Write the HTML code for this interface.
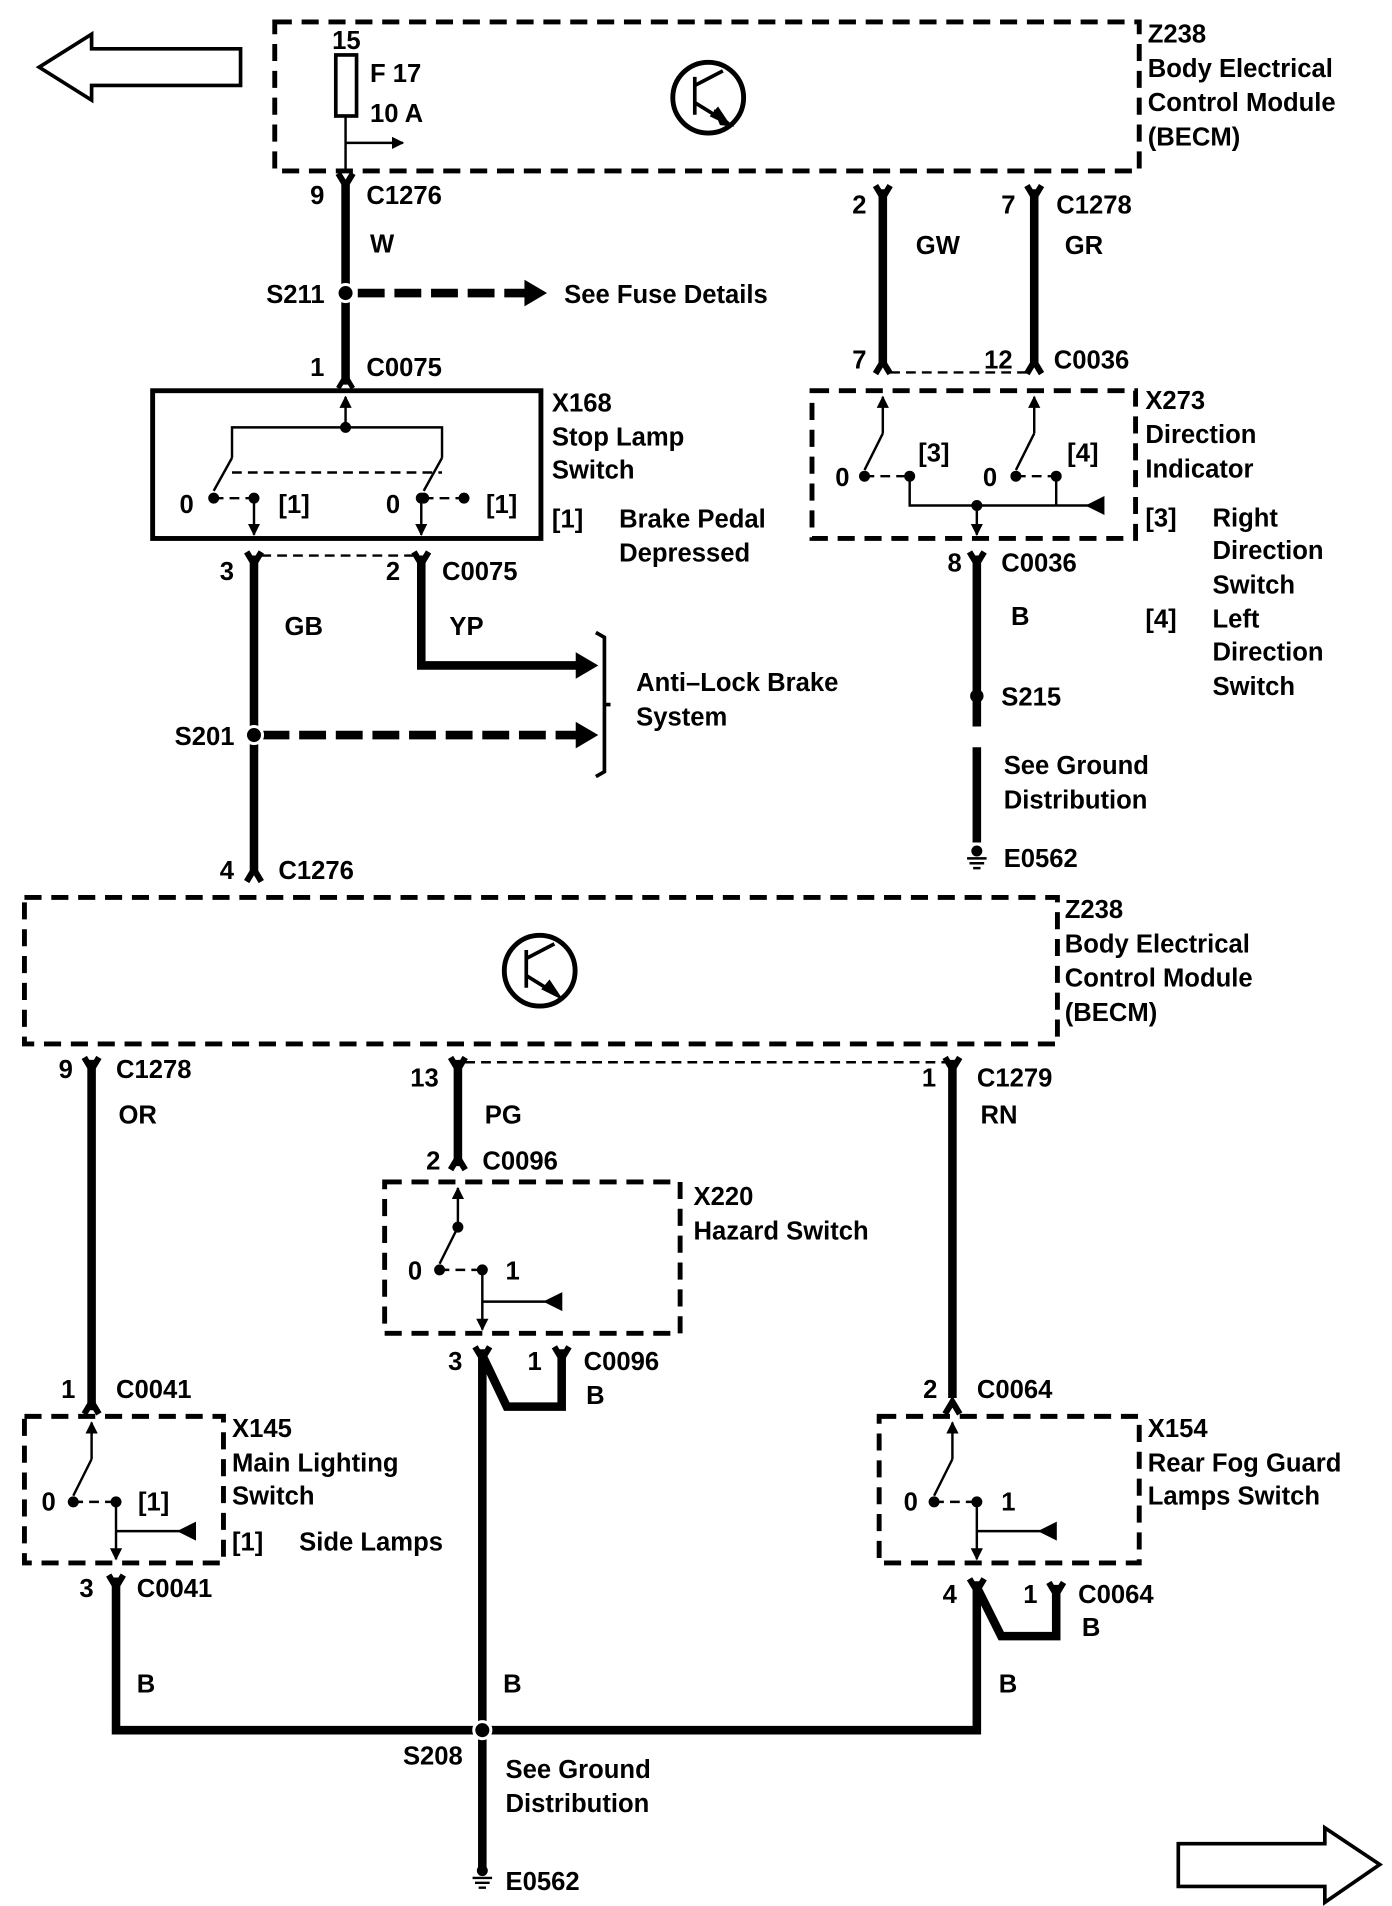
<!DOCTYPE html>
<html><head><meta charset="utf-8"><style>
html,body{margin:0;padding:0;background:#fff;}
svg{display:block;}
text{font-family:"Liberation Sans",Arial,sans-serif;font-weight:bold;font-size:21px;fill:#000;}
</style></head><body>
<svg width="1392" height="1906" viewBox="0 0 1140 1561" xmlns="http://www.w3.org/2000/svg">
<defs>
<marker id="ah" markerWidth="10" markerHeight="10" refX="9" refY="5" orient="auto" markerUnits="userSpaceOnUse"><path d="M0,0 L10,5 L0,10 z"/></marker>
</defs>
<g fill="none" stroke="#000">
<path d="M32,55 L75,28 L75,40 L197,40 L197,70 L75,70 L75,82 Z" stroke-width="3"/>
<path d="M1130,1527 L1085,1497 L1085,1510 L965,1510 L965,1545 L1085,1545 L1085,1558 Z" stroke-width="3"/>
<rect x="225" y="18" width="708" height="122" stroke-width="4" stroke-dasharray="14,8"/>
<rect x="20" y="735" width="846" height="120" stroke-width="4" stroke-dasharray="14,8"/>
<rect x="665" y="320" width="265" height="121" stroke-width="4" stroke-dasharray="14,8"/>
<rect x="315" y="968" width="242" height="124" stroke-width="4" stroke-dasharray="14,8"/>
<rect x="20" y="1160" width="163" height="120" stroke-width="4" stroke-dasharray="14,8"/>
<rect x="720" y="1160" width="213" height="120" stroke-width="4" stroke-dasharray="14,8"/>
<rect x="125" y="320" width="318" height="121" stroke-width="4"/>
<circle cx="580" cy="80" r="29" stroke-width="4"/>
<path d="M569,63 L569,94 M569,70 L592,58 M569,84 L590,97" stroke-width="3"/>
<path d="M585,90 L600,103 L590,102 Z M598,103 L582,95 L588,88 Z" fill="#000" stroke-width="1"/>
<circle cx="442" cy="795" r="29" stroke-width="4"/>
<path d="M431,778 L431,809 M431,785 L454,773 M431,799 L452,812" stroke-width="3"/>
<path d="M460,818 L444,810 L450,803 Z" fill="#000" stroke-width="1"/>
<rect x="275" y="45" width="17" height="50" stroke-width="3"/>
<path d="M283,95 L283,138 M283,117 L330,117" stroke-width="2" marker-end="url(#ah)"/>
<g stroke-width="7">
<path d="M283,150 L283,315"/>
<path d="M208,455 L208,715"/>
<path d="M345,455 L345,545 L478,545"/>
<path d="M723,155 L723,300 M847,155 L847,300"/>
<path d="M800,455 L800,595 M800,612 L800,690"/>
<path d="M75,868 L75,1155"/>
<path d="M375,868 L375,955"/>
<path d="M780,868 L780,1145"/>
<path d="M95,1292 L95,1417 L800,1417 L800,1295"/>
<path d="M395,1105 L395,1530"/>
<path d="M395,1110 L415,1152 L460,1152 L460,1105"/>
<path d="M800,1300 L820,1340 L865,1340 L865,1298"/>
<path d="M293,240 L430,240" stroke-dasharray="22,8"/>
<path d="M215,602 L472,602" stroke-dasharray="22,8"/>
</g>
<path d="M430,230 L447,240 L430,250 Z" fill="#000"/>
<path d="M472,592 L489,602 L472,612 Z" fill="#000"/>
<path d="M472,535 L489,545 L472,555 Z" fill="#000"/>
<path d="M488,518 L495,522 L495,632 L488,636 M495,577 L500,577" stroke-width="3"/>
<g stroke-width="5">
<path d="M277,142 L283,152 L289,142"/>
<path d="M277,318 L283,308 L289,318" stroke-width="4"/>
<path d="M202,452 L208,462 L214,452 M339,452 L345,462 L351,452"/>
<path d="M717,152 L723,162 L729,152 M841,152 L847,162 L853,152"/>
<path d="M717,306 L723,296 L729,306 M841,306 L847,296 L853,306"/>
<path d="M794,452 L800,462 L806,452"/>
<path d="M202,722 L208,712 L214,722"/>
<path d="M69,866 L75,876 L81,866 M369,866 L375,876 L381,866 M774,866 L780,876 L786,866"/>
<path d="M369,958 L375,948 L381,958"/>
<path d="M69,1158 L75,1148 L81,1158 M774,1158 L780,1148 L786,1158"/>
<path d="M89,1290 L95,1300 L101,1290 M389,1103 L395,1113 L401,1103 M454,1103 L460,1113 L466,1103 M794,1293 L800,1303 L806,1293 M859,1296 L865,1306 L871,1296"/>
</g>
<g stroke-width="2" stroke-dasharray="8,5">
<path d="M214,455 L339,455"/><path d="M729,305 L841,305"/><path d="M381,870 L774,870"/>
</g>
<g stroke-width="2">
<path d="M283,350 L283,325" marker-end="url(#ah)"/>
<path d="M190,375 L190,350 L362,350 L362,375"/>
<path d="M190,375 L175,402 M362,375 L347,402"/>
<path d="M208,408 L208,438" marker-end="url(#ah)"/>
<path d="M345,408 L345,438" marker-end="url(#ah)"/>
<path d="M190,387 L362,387 M175,408 L208,408 M347,408 L380,408" stroke-dasharray="8,5"/>
</g>
<g fill="#000"><circle cx="283" cy="350" r="4"/><circle cx="208" cy="408" r="4"/><circle cx="345" cy="408" r="4"/><circle cx="175" cy="408" r="4"/><circle cx="347" cy="408" r="4"/><circle cx="380" cy="408" r="4"/></g>
<g stroke-width="2">
<path d="M723,355 L723,325" marker-end="url(#ah)"/>
<path d="M847,355 L847,325" marker-end="url(#ah)"/>
<path d="M723,355 L708,385 M847,355 L832,385"/>
<path d="M708,390 L745,390 M832,390 L865,390" stroke-dasharray="8,5"/>
<path d="M745,390 L745,414 L900,414 M865,390 L865,414"/>
<path d="M800,414 L800,438" marker-end="url(#ah)"/>
</g>
<path d="M890,414 L904,407 L904,421 Z" fill="#000"/>
<g fill="#000"><circle cx="708" cy="390" r="4"/><circle cx="745" cy="390" r="4"/><circle cx="832" cy="390" r="4"/><circle cx="865" cy="390" r="4"/><circle cx="800" cy="414" r="4"/></g>
<g stroke-width="2">
<path d="M375,1005 L375,973" marker-end="url(#ah)"/>
<path d="M375,1005 L360,1035"/>
<path d="M360,1040 L395,1040" stroke-dasharray="8,5"/>
<path d="M395,1040 L395,1089" marker-end="url(#ah)"/>
<path d="M395,1066 L455,1066"/>
</g>
<path d="M446,1066 L460,1059 L460,1073 Z" fill="#000"/>
<g fill="#000"><circle cx="375" cy="1005" r="4"/><circle cx="360" cy="1040" r="4"/><circle cx="395" cy="1040" r="4"/></g>
<g stroke-width="2">
<path d="M75,1195 L75,1165" marker-end="url(#ah)"/>
<path d="M75,1195 L60,1225"/>
<path d="M60,1230 L95,1230" stroke-dasharray="8,5"/>
<path d="M95,1230 L95,1277" marker-end="url(#ah)"/>
<path d="M95,1254 L155,1254"/>
</g>
<path d="M146,1254 L160,1247 L160,1261 Z" fill="#000"/>
<g fill="#000"><circle cx="60" cy="1230" r="4"/><circle cx="95" cy="1230" r="4"/></g>
<g stroke-width="2">
<path d="M780,1195 L780,1165" marker-end="url(#ah)"/>
<path d="M780,1195 L765,1225"/>
<path d="M765,1230 L800,1230" stroke-dasharray="8,5"/>
<path d="M800,1230 L800,1277" marker-end="url(#ah)"/>
<path d="M800,1254 L860,1254"/>
</g>
<path d="M851,1254 L865,1247 L865,1261 Z" fill="#000"/>
<g fill="#000"><circle cx="765" cy="1230" r="4"/><circle cx="800" cy="1230" r="4"/></g>
<g fill="#000" stroke="#fff" stroke-width="2.5"><circle cx="283" cy="240" r="7"/><circle cx="208" cy="602" r="7"/><circle cx="395" cy="1417" r="7"/></g>
<circle cx="800" cy="570" r="5" fill="#000"/>
<g stroke-width="2"><path d="M792,703 L808,703 M794,707 L806,707 M797,711 L803,711"/><path d="M387,1538 L403,1538 M389,1542 L401,1542 M392,1546 L398,1546"/></g>
<circle cx="800" cy="697" r="4" fill="#000"/><circle cx="395" cy="1532" r="4" fill="#000"/>
</g>
<text x="272" y="40">15</text><text x="303" y="67">F 17</text><text x="303" y="100">10 A</text>
<text x="940" y="35">Z238</text><text x="940" y="63">Body Electrical</text><text x="940" y="91">Control Module</text><text x="940" y="119">(BECM)</text>
<text x="254" y="167">9</text><text x="300" y="167">C1276</text><text x="303" y="207">W</text>
<text x="218" y="248">S211</text><text x="462" y="248">See Fuse Details</text>
<text x="254" y="308">1</text><text x="300" y="308">C0075</text>
<text x="452" y="337">X168</text><text x="452" y="365">Stop Lamp</text><text x="452" y="392">Switch</text>
<text x="147" y="420">0</text><text x="228" y="420">[1]</text><text x="316" y="420">0</text><text x="398" y="420">[1]</text>
<text x="452" y="432">[1]</text><text x="507" y="432">Brake Pedal</text><text x="507" y="460">Depressed</text>
<text x="180" y="475">3</text><text x="316" y="475">2</text><text x="362" y="475">C0075</text>
<text x="233" y="520">GB</text><text x="368" y="520">YP</text>
<text x="521" y="566">Anti–Lock Brake</text><text x="521" y="594">System</text>
<text x="143" y="610">S201</text>
<text x="180" y="720">4</text><text x="228" y="720">C1276</text>
<text x="698" y="175">2</text><text x="820" y="175">7</text><text x="865" y="175">C1278</text>
<text x="750" y="208">GW</text><text x="872" y="208">GR</text>
<text x="698" y="302">7</text><text x="806" y="302">12</text><text x="863" y="302">C0036</text>
<text x="938" y="335">X273</text><text x="938" y="363">Direction</text><text x="938" y="391">Indicator</text>
<text x="684" y="398">0</text><text x="752" y="378">[3]</text><text x="805" y="398">0</text><text x="874" y="378">[4]</text>
<text x="938" y="431">[3]</text><text x="993" y="431">Right</text><text x="993" y="458">Direction</text><text x="993" y="486">Switch</text>
<text x="938" y="514">[4]</text><text x="993" y="514">Left</text><text x="993" y="541">Direction</text><text x="993" y="569">Switch</text>
<text x="776" y="468">8</text><text x="820" y="468">C0036</text><text x="828" y="512">B</text>
<text x="820" y="578">S215</text><text x="822" y="634">See Ground</text><text x="822" y="662">Distribution</text><text x="822" y="710">E0562</text>
<text x="872" y="752">Z238</text><text x="872" y="780">Body Electrical</text><text x="872" y="808">Control Module</text><text x="872" y="836">(BECM)</text>
<text x="48" y="883">9</text><text x="95" y="883">C1278</text><text x="97" y="920">OR</text>
<text x="336" y="890">13</text><text x="397" y="920">PG</text>
<text x="755" y="890">1</text><text x="800" y="890">C1279</text><text x="803" y="920">RN</text>
<text x="349" y="958">2</text><text x="395" y="958">C0096</text>
<text x="568" y="987">X220</text><text x="568" y="1015">Hazard Switch</text>
<text x="334" y="1048">0</text><text x="414" y="1048">1</text>
<text x="367" y="1122">3</text><text x="432" y="1122">1</text><text x="478" y="1122">C0096</text><text x="480" y="1150">B</text>
<text x="50" y="1145">1</text><text x="95" y="1145">C0041</text>
<text x="756" y="1145">2</text><text x="800" y="1145">C0064</text>
<text x="190" y="1177">X145</text><text x="190" y="1205">Main Lighting</text><text x="190" y="1232">Switch</text>
<text x="34" y="1237">0</text><text x="113" y="1237">[1]</text>
<text x="190" y="1270">[1]</text><text x="245" y="1270">Side Lamps</text>
<text x="940" y="1177">X154</text><text x="940" y="1205">Rear Fog Guard</text><text x="940" y="1232">Lamps Switch</text>
<text x="740" y="1237">0</text><text x="820" y="1237">1</text>
<text x="65" y="1308">3</text><text x="112" y="1308">C0041</text>
<text x="772" y="1313">4</text><text x="838" y="1313">1</text><text x="883" y="1313">C0064</text><text x="886" y="1340">B</text>
<text x="112" y="1386">B</text><text x="412" y="1386">B</text><text x="818" y="1386">B</text>
<text x="330" y="1445">S208</text><text x="414" y="1456">See Ground</text><text x="414" y="1484">Distribution</text>
<text x="414" y="1548">E0562</text>
</svg>
</body></html>
